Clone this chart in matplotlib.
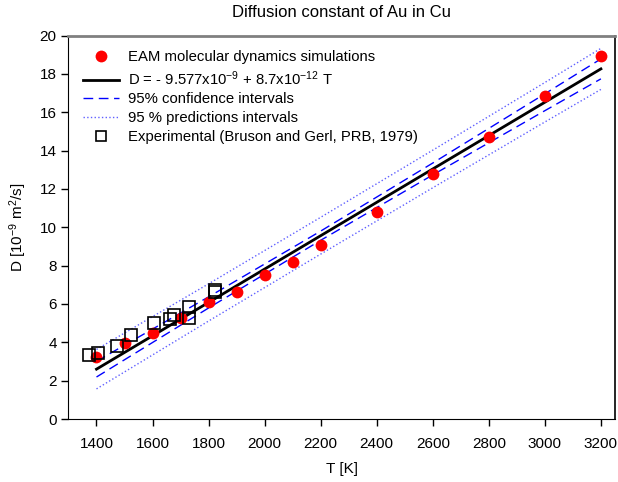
import matplotlib
matplotlib.use("Agg")
import matplotlib.pyplot as plt

plt.rcParams['font.family'] = ['Liberation Sans', 'DejaVu Sans']
plt.rcParams['mathtext.fontset'] = 'custom'
plt.rcParams['mathtext.rm'] = 'Liberation Sans'
plt.rcParams['mathtext.it'] = 'Liberation Sans'

# Simulaciones EAM (T en K, D en 1e-9 m^2/s)
sim_T = [1400, 1500, 1600, 1700, 1800, 1900, 2000, 2100, 2200, 2400, 2600, 2800, 3000, 3200]
sim_D = [3.25, 3.95, 4.50, 5.25, 6.10, 6.64, 7.49, 8.19, 9.08, 10.81, 12.78, 14.72, 16.85, 18.95]

# Ajuste lineal y bandas
fit_T = [1400, 1800, 2200, 2600, 3000, 3200]
fit_D = [2.60, 6.08, 9.56, 13.04, 16.52, 18.26]
conf_up = [3.01, 6.37, 9.80, 13.35, 16.96, 18.78]
conf_lo = [2.19, 5.79, 9.32, 12.73, 16.08, 17.74]
pred_up = [3.63, 7.05, 10.52, 14.02, 17.55, 19.33]
pred_lo = [1.57, 5.11, 8.60, 12.06, 15.49, 17.19]

# Experimental (Bruson y Gerl, PRB 1979)
exp_T = [1375, 1406, 1474, 1524, 1604, 1664, 1676, 1729, 1729, 1824, 1824]
exp_D = [3.34, 3.46, 3.82, 4.40, 4.99, 5.20, 5.41, 5.86, 5.28, 6.73, 6.60]

fig = plt.figure(figsize=(6.18, 4.82), dpi=100)
ax = fig.add_axes([0.1108, 0.1307, 0.8842, 0.7956])

ax.plot(sim_T, sim_D, 'o', color='#ff0000', markersize=8.5, markeredgewidth=0,
        label='EAM molecular dynamics simulations', zorder=4)
ax.plot(fit_T, fit_D, '-', color='black', linewidth=2,
        label='D = - 9.577x10$^{-9}$ + 8.7x10$^{-12}$ T', zorder=3)
ax.plot(fit_T, conf_up, '--', color='#0000ff', linewidth=1, dashes=(7, 4),
        label='95% confidence intervals')
ax.plot(fit_T, conf_lo, '--', color='#0000ff', linewidth=1, dashes=(7, 4))
ax.plot(fit_T, pred_up, ':', color='#6060ff', linewidth=1,
        label='95 % predictions intervals')
ax.plot(fit_T, pred_lo, ':', color='#6060ff', linewidth=1)
ax.plot(exp_T, exp_D, 's', markerfacecolor='none', markeredgecolor='black',
        markersize=8, markeredgewidth=1.2,
        label='Experimental (Bruson and Gerl, PRB, 1979)', zorder=5)

ax.set_xlim(1300, 3250)
ax.set_ylim(0, 20)
ax.set_xticks(range(1400, 3201, 200))
ax.set_yticks(range(0, 21, 2))
ax.tick_params(direction='out', length=5, labelsize=11, width=1)
ax.tick_params(axis='x', top=False, pad=8)
ax.tick_params(axis='y', right=False)

ax.spines['top'].set_color('#808080')
ax.spines['top'].set_linewidth(2)
ax.spines['right'].set_linewidth(1.2)

ax.set_title('Diffusion constant of Au in Cu', fontsize=12, pad=13)
ax.set_xlabel('T [K]', fontsize=11, labelpad=8)
ax.set_ylabel('D [10$^{-9}$ m$^2$/s]', fontsize=11, labelpad=8)

leg = ax.legend(loc='upper left', frameon=False, fontsize=10.7, handlelength=2.4,
                handletextpad=0.6, labelspacing=0.32, borderaxespad=0.6,
                bbox_to_anchor=(0.0, 1.0))
for h in leg.legend_handles[-1:]:
    h.set_markersize(6.5)

fig.savefig('out.png', dpi=100)
